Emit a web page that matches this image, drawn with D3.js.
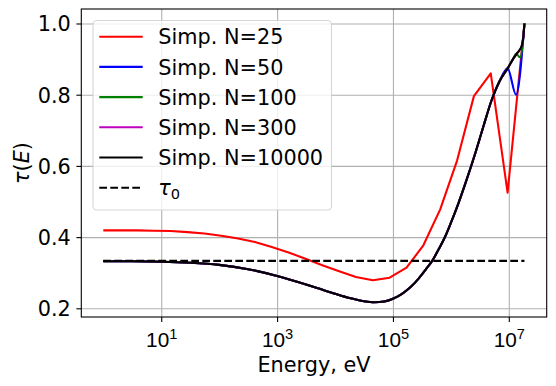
<!DOCTYPE html>
<html>
<head>
<meta charset="utf-8">
<script src="https://cdn.jsdelivr.net/npm/d3@7"></script>
<style>
  body { margin: 0; background: #fff; }
  svg { font-family: "DejaVu Sans", sans-serif; }
</style>
</head>
<body>
<div id="chart"></div>
<script>
// energies in eV, tau

// N=25 : coarse grid, kinks are real
const energyN25 = [1, 1.953, 3.815, 7.455, 14.56, 28.44, 55.56, 108.5, 212, 414.2, 809, 1580, 3087, 6031,
  11780, 23010, 44960, 87830, 171600, 335200, 654600, 1.279e6, 2.498e6, 4.88e6, 9.53e6, 1.862e7];
const tauN25 = [0.419, 0.419, 0.419, 0.418, 0.417, 0.414, 0.410, 0.404, 0.396, 0.386, 0.372, 0.357, 0.339, 0.321,
  0.304, 0.288, 0.279, 0.286, 0.314, 0.377, 0.478, 0.615, 0.796, 0.860, 0.525, 1.0];

// shared part where N=50..10000 all sit on top of each other
const energyCommon = [1, 3.16, 10, 31.6, 100, 316, 1000, 3162, 5623, 1e4, 17780, 31620, 47860, 70790, 1e5,
  141300, 199500, 281800, 380200, 478600, 631000, 794300, 1e6, 1.349e6, 1.738e6, 2.63e6, 3.63e6, 5.01e6, 6.92e6];
const tauCommon = [0.332, 0.332, 0.331, 0.328, 0.322, 0.310, 0.291, 0.267, 0.254, 0.241, 0.229, 0.220, 0.217, 0.219, 0.227,
  0.240, 0.259, 0.285, 0.312, 0.334, 0.369, 0.401, 0.44, 0.495, 0.546, 0.635, 0.71, 0.783, 0.838];

// high energy tails, where the curves split
const energyTailN50 = [9.53e6, 1.334e7, 1.862e7];
const tauTailN50 = [0.874, 0.80, 1.0];
const energyTailN100 = [9.55e6, 1.202e7, 1.334e7, 1.574e7, 1.862e7];
const tauTailN100 = [0.874, 0.902, 0.915, 0.905, 1.0];
const energyTailN300 = [9.55e6, 1.202e7, 1.413e7, 1.66e7, 1.778e7, 1.862e7];
const tauTailN300 = [0.874, 0.902, 0.918, 0.936, 0.96, 1.0];
const energyTailN10000 = [9.55e6, 1.202e7, 1.413e7, 1.66e7, 1.778e7, 1.862e7];
const tauTailN10000 = [0.874, 0.902, 0.918, 0.936, 0.96, 1.0];

const tau0 = 1 / 3;
const tau0Range = [1, 1.862e7];

const xTicks = [1e1, 1e3, 1e5, 1e7];
const xTickPowers = ["1", "3", "5", "7"];
const yTicks = [0.2, 0.4, 0.6, 0.8, 1.0];

const config = {
  width: 556,
  height: 386,
  plot: {left: 81.3, right: 546.7, top: 9, bottom: 317},
  fontSize: 20.8,
  lineWidth: 2.08,
  gridColor: "#b0b0b0"
};

const zip = (xs, ys) => xs.map((e, i) => ({e: e, t: ys[i]}));

const series = [
  {label: "Simp. N=25", color: "#ff0000", pts: zip(energyN25, tauN25), curve: d3.curveLinear},
  {label: "Simp. N=50", color: "#0000ff", pts: zip(energyCommon.concat(energyTailN50), tauCommon.concat(tauTailN50)), curve: d3.curveMonotoneX},
  {label: "Simp. N=100", color: "#008000", pts: zip(energyCommon.concat(energyTailN100), tauCommon.concat(tauTailN100)), curve: d3.curveMonotoneX},
  {label: "Simp. N=300", color: "#bf00bf", pts: zip(energyCommon.concat(energyTailN300), tauCommon.concat(tauTailN300)), curve: d3.curveMonotoneX},
  {label: "Simp. N=10000", color: "#000000", pts: zip(energyCommon.concat(energyTailN10000), tauCommon.concat(tauTailN10000)), curve: d3.curveMonotoneX}
];

const p = config.plot;
const xScale = d3.scaleLog().domain([0.417, 4.51e7]).range([p.left, p.right]);
const yScale = d3.scaleLinear().domain([0.1756, 1.0407]).range([p.bottom, p.top]);

const svg = d3.select("#chart").append("svg")
  .attr("width", config.width)
  .attr("height", config.height)
  .attr("viewBox", [0, 0, config.width, config.height]);

// grid
svg.append("g")
  .attr("transform", `translate(0,${p.bottom})`)
  .call(d3.axisBottom(xScale).tickValues(xTicks).tickSize(p.top - p.bottom).tickFormat(""))
  .call(g => g.select(".domain").remove())
  .call(g => g.selectAll(".tick line").attr("stroke", config.gridColor).attr("stroke-width", 1.1));

svg.append("g")
  .attr("transform", `translate(${p.left},0)`)
  .call(d3.axisLeft(yScale).tickValues(yTicks).tickSize(p.left - p.right).tickFormat(""))
  .call(g => g.select(".domain").remove())
  .call(g => g.selectAll(".tick line").attr("stroke", config.gridColor).attr("stroke-width", 1.1));

// curves
const plotArea = svg.append("g");
series.forEach(s => {
  const line = d3.line()
    .x(d => xScale(d.e))
    .y(d => yScale(d.t))
    .curve(s.curve);
  plotArea.append("path")
    .datum(s.pts)
    .attr("fill", "none")
    .attr("stroke", s.color)
    .attr("stroke-width", config.lineWidth)
    .attr("stroke-linejoin", "round")
    .attr("d", line);
});

plotArea.append("line")
  .attr("x1", xScale(tau0Range[0]))
  .attr("x2", xScale(tau0Range[1]))
  .attr("y1", yScale(tau0))
  .attr("y2", yScale(tau0))
  .attr("stroke", "#000")
  .attr("stroke-width", config.lineWidth)
  .attr("stroke-dasharray", "7.7,3.3");

// axes
const xAxis = svg.append("g")
  .attr("transform", `translate(0,${p.bottom})`)
  .call(d3.axisBottom(xScale).tickValues(xTicks).tickSizeOuter(0).tickSize(4.9).tickFormat(""));
xAxis.select(".domain").remove();
xAxis.selectAll(".tick line").attr("stroke", "#000").attr("stroke-width", 1.1);
xAxis.selectAll(".tick text").remove();
xAxis.selectAll(".tick").each(function (d, i) {
  const t = d3.select(this).append("text")
    .attr("y", 29.6)
    .attr("fill", "#000")
    .attr("font-size", config.fontSize)
    .attr("text-anchor", "middle");
  t.append("tspan").text("10");
  t.append("tspan").attr("dy", -7.5).attr("font-size", 14.6).text(xTickPowers[i]);
});

const yAxis = svg.append("g")
  .attr("transform", `translate(${p.left},0)`)
  .call(d3.axisLeft(yScale).tickValues(yTicks).tickSize(4.9).tickPadding(5.6).tickFormat(d3.format(".1f")));
yAxis.select(".domain").remove();
yAxis.selectAll(".tick line").attr("stroke", "#000").attr("stroke-width", 1.1);
yAxis.selectAll(".tick text")
  .attr("font-size", config.fontSize)
  .attr("fill", "#000")
  .attr("font-family", "DejaVu Sans")
  .attr("dy", "0.36em");

svg.append("rect")
  .attr("x", p.left)
  .attr("y", p.top)
  .attr("width", p.right - p.left)
  .attr("height", p.bottom - p.top)
  .attr("fill", "none")
  .attr("stroke", "#000")
  .attr("stroke-width", 1.1);

// axis labels
svg.append("text")
  .attr("x", (p.left + p.right) / 2)
  .attr("y", 371.5)
  .attr("text-anchor", "middle")
  .attr("font-size", config.fontSize)
  .text("Energy, eV");

const yLab = svg.append("text")
  .attr("transform", `translate(28.5,${(p.top + p.bottom) / 2}) rotate(-90)`)
  .attr("text-anchor", "middle")
  .attr("font-size", config.fontSize);
yLab.append("tspan").attr("font-style", "oblique").text("τ");
yLab.append("tspan").text("(");
yLab.append("tspan").attr("font-style", "oblique").text("E");
yLab.append("tspan").text(")");

// legend
const legend = svg.append("g");
legend.append("rect")
  .attr("x", 93)
  .attr("y", 20.5)
  .attr("width", 238.5)
  .attr("height", 189.5)
  .attr("rx", 4)
  .attr("fill", "#fff")
  .attr("fill-opacity", 0.8)
  .attr("stroke", "#cccccc")
  .attr("stroke-opacity", 0.8)
  .attr("stroke-width", 1.1);

const rowY = i => 36.7 + i * 30.2;
const entries = series.map(s => ({label: s.label, color: s.color, dash: null}))
  .concat([{label: null, color: "#000", dash: "7.7,3.3"}]);

entries.forEach((en, i) => {
  const y = rowY(i);
  legend.append("line")
    .attr("x1", 99.3).attr("x2", 142.7)
    .attr("y1", y).attr("y2", y)
    .attr("stroke", en.color)
    .attr("stroke-width", config.lineWidth)
    .attr("stroke-dasharray", en.dash);
  const t = legend.append("text")
    .attr("x", 158.3)
    .attr("y", y + 7.6)
    .attr("font-size", config.fontSize);
  if (en.label) {
    t.text(en.label);
  } else {
    t.append("tspan").attr("font-style", "oblique").text("τ");
    t.append("tspan").attr("dy", 4).attr("font-size", 14.6).text("0");
  }
});
</script>
</body>
</html>
